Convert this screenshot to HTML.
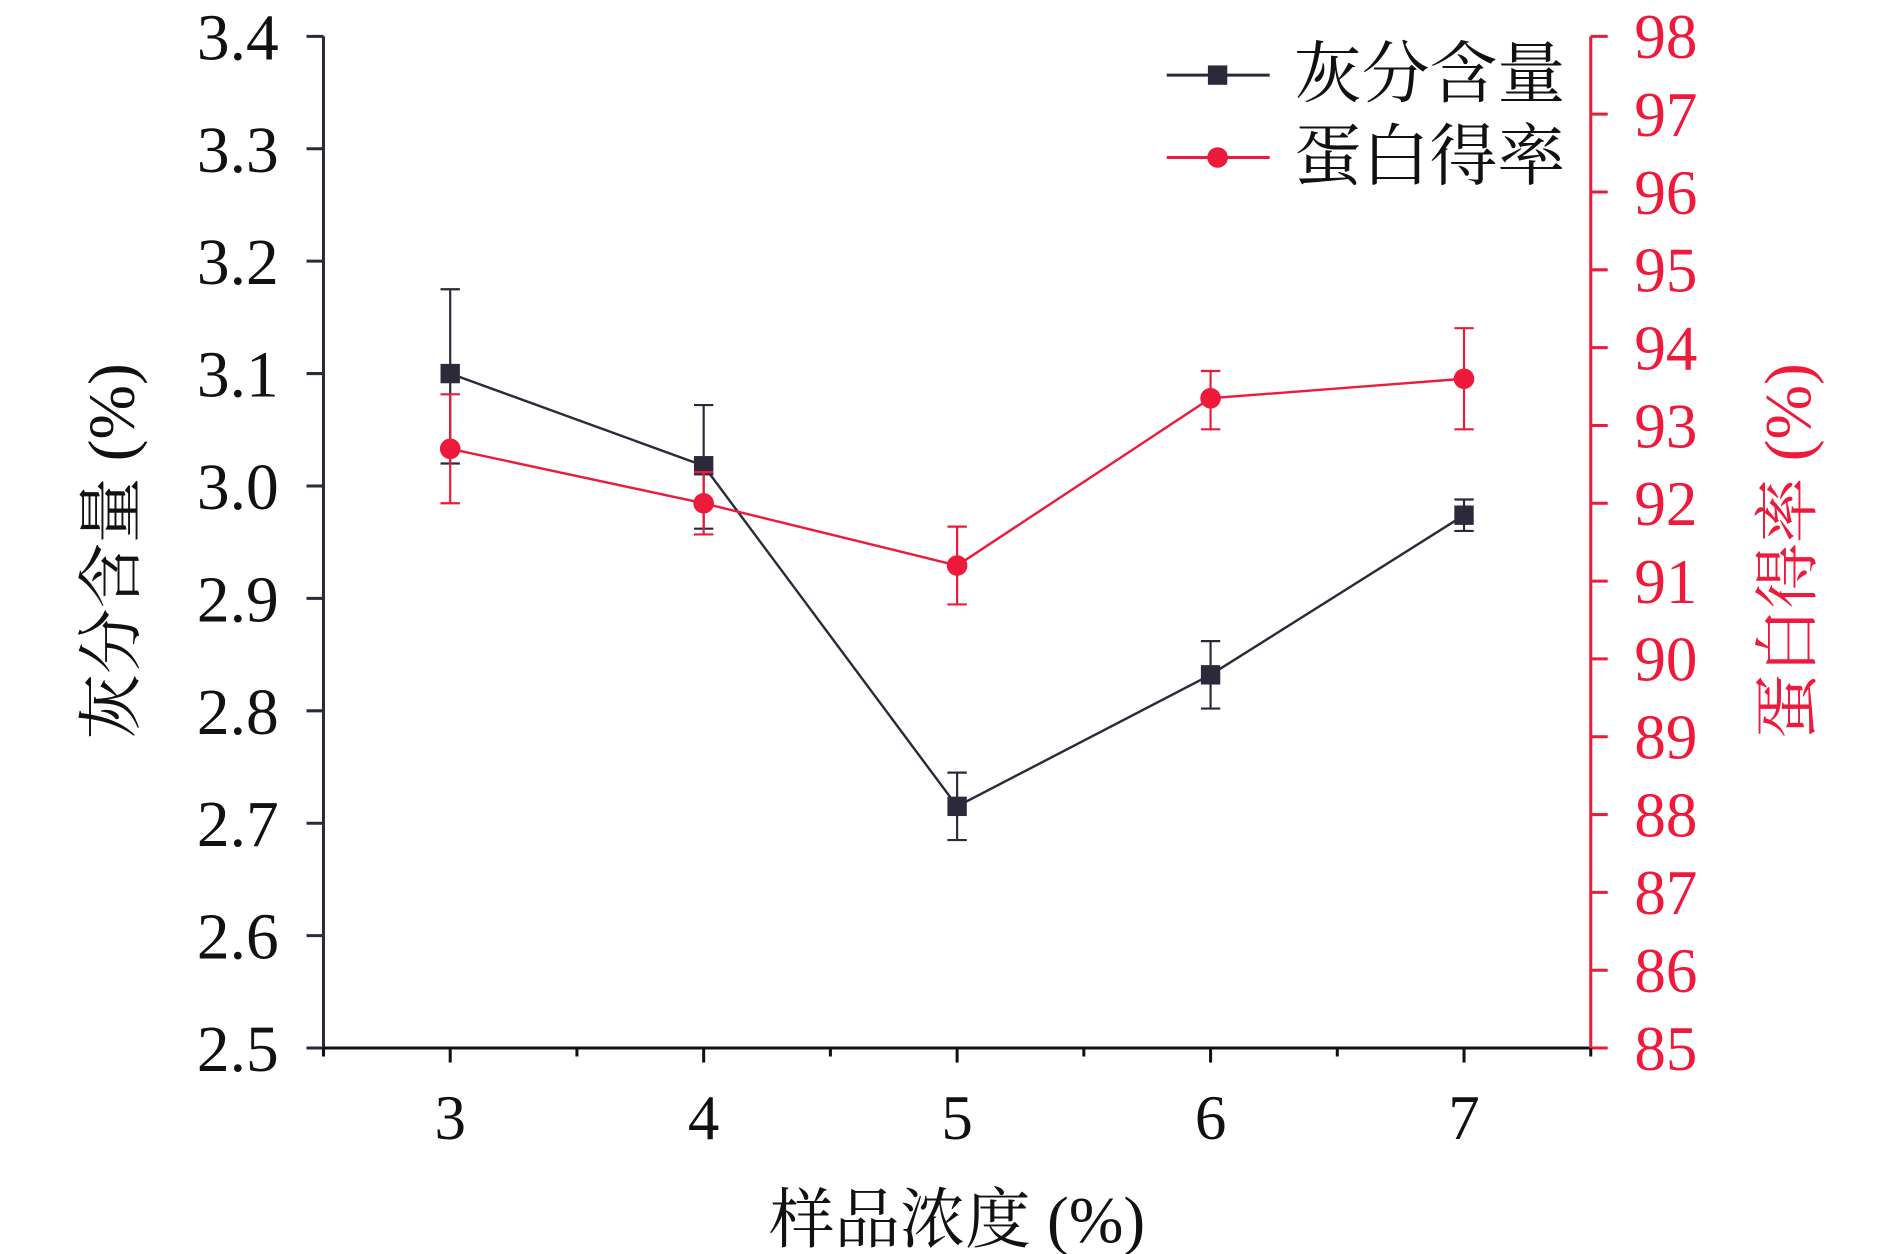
<!DOCTYPE html>
<html><head><meta charset="utf-8"><style>
html,body{margin:0;padding:0;background:#fff;}
svg{display:block;}
text{font-family:"Liberation Serif","Noto Serif CJK SC",serif;}
</style></head><body>
<svg id="chart" width="1890" height="1254" viewBox="0 0 1560 1035" preserveAspectRatio="none" xmlns="http://www.w3.org/2000/svg"></svg>
<script>
const categories=[3,4,5,6,7];
const ashValues=[3.10,3.018,2.715,2.832,2.974];
const ashErrHigh=[3.175,3.072,2.745,2.862,2.988];
const ashErrLow=[3.02,2.962,2.685,2.802,2.960];
const proteinValues=[92.7,92.0,91.2,93.35,93.6];
const proteinErrHigh=[93.4,92.4,91.7,93.7,94.25];
const proteinErrLow=[92.0,91.6,90.7,92.95,92.95];
const leftTicks=["2.5","2.6","2.7","2.8","2.9","3.0","3.1","3.2","3.3","3.4"];
const rightTicks=["85","86","87","88","89","90","91","92","93","94","95","96","97","98"];

const NS="http://www.w3.org/2000/svg";
const svg=document.getElementById('chart');
const L=267,R=1313,T=30,B=865;
const RED="#ee1a3c",DK="#2a2a3a";
const xS=v=>L+(v-2.5)/(7.5-2.5)*(R-L);
const yL=v=>B-(v-2.5)/(3.4-2.5)*(B-T);
const yR=v=>B-(v-85)/(98-85)*(B-T);
function el(tag,attrs,parent){const e=document.createElementNS(NS,tag);for(const k in attrs)e.setAttribute(k,attrs[k]);(parent||svg).appendChild(e);return e;}

let a=el('line',{x1:L,y1:T,x2:L,y2:B,stroke:DK,'stroke-width':2.5});

a=el('line',{x1:L,y1:B,x2:R,y2:B,stroke:'#111','stroke-width':2.5});

a=el('line',{x1:R,y1:T,x2:R,y2:B,stroke:RED,'stroke-width':2.5});


leftTicks.forEach(t=>{const v=parseFloat(t),y=yL(v);
 el('line',{x1:L-14,y1:y,x2:L,y2:y,stroke:DK,'stroke-width':2.5});
 const tx=el('text',{x:L-37,y:y+19,'text-anchor':'end','font-size':54,fill:'#111'});tx.textContent=t;
 
});
rightTicks.forEach(t=>{const v=parseFloat(t),y=yR(v);
 el('line',{x1:R,y1:y,x2:R+14,y2:y,stroke:RED,'stroke-width':2.5});
 const tx=el('text',{x:R+36,y:y+18,'text-anchor':'start','font-size':52,fill:RED});tx.textContent=t;
 
});
for(let v=2.5;v<=7.51;v+=0.5){const x=xS(v);const major=Number.isInteger(v);
 el('line',{x1:x,y1:B,x2:x,y2:B+(major?12:7),stroke:'#111','stroke-width':2.5});}
categories.forEach(c=>{const tx=el('text',{x:xS(c),y:B+75,'text-anchor':'middle','font-size':52,fill:'#111'});tx.textContent=c;
 });

let t=el('text',{x:790,y:1025,'text-anchor':'middle','font-size':54,fill:'#111'});t.textContent='样品浓度 (%)';

t=el('text',{x:0,y:0,'text-anchor':'middle','font-size':54,fill:'#111',transform:'translate(110,455) rotate(-90)'});t.textContent='灰分含量 (%)';

t=el('text',{x:0,y:0,'text-anchor':'middle','font-size':54,fill:RED,transform:'translate(1494,455) rotate(-90)'});t.textContent='蛋白得率 (%)';


function series(vals,hi,lo,ys,color,marker,name){
 const g=el('g',{});
 const pts=vals.map((v,i)=>xS(categories[i])+','+ys(v)).join(' ');
 el('polyline',{points:pts,fill:'none',stroke:color,'stroke-width':2},g);
 vals.forEach((v,i)=>{const x=xS(categories[i]);
  el('line',{x1:x,y1:ys(hi[i]),x2:x,y2:ys(lo[i]),stroke:color,'stroke-width':1.8},g);
  el('line',{x1:x-8,y1:ys(hi[i]),x2:x+8,y2:ys(hi[i]),stroke:color,'stroke-width':1.8},g);
  el('line',{x1:x-8,y1:ys(lo[i]),x2:x+8,y2:ys(lo[i]),stroke:color,'stroke-width':1.8},g);
  let m;
  if(marker==='sq') m=el('rect',{x:x-8,y:ys(v)-8,width:16,height:16,fill:color},g);
  else m=el('circle',{cx:x,cy:ys(v),r:8.5,fill:color},g);
  
 });
}
series(ashValues,ashErrHigh,ashErrLow,yL,DK,'sq','ash-content');
series(proteinValues,proteinErrHigh,proteinErrLow,yR,RED,'ci','protein-yield');

const lg=el('g',{});
el('line',{x1:963,y1:62,x2:1048,y2:62,stroke:DK,'stroke-width':2.5},lg);
el('rect',{x:997,y:54,width:16,height:16,fill:DK},lg);
t=el('text',{x:1068,y:80,'font-size':56,fill:'#111'},lg);t.textContent='灰分含量';

el('line',{x1:963,y1:130,x2:1048,y2:130,stroke:RED,'stroke-width':2.5},lg);
el('circle',{cx:1005,cy:130,r:8.5,fill:RED},lg);
t=el('text',{x:1068,y:148,'font-size':56,fill:'#111'},lg);t.textContent='蛋白得率';

</script>
</body></html>
